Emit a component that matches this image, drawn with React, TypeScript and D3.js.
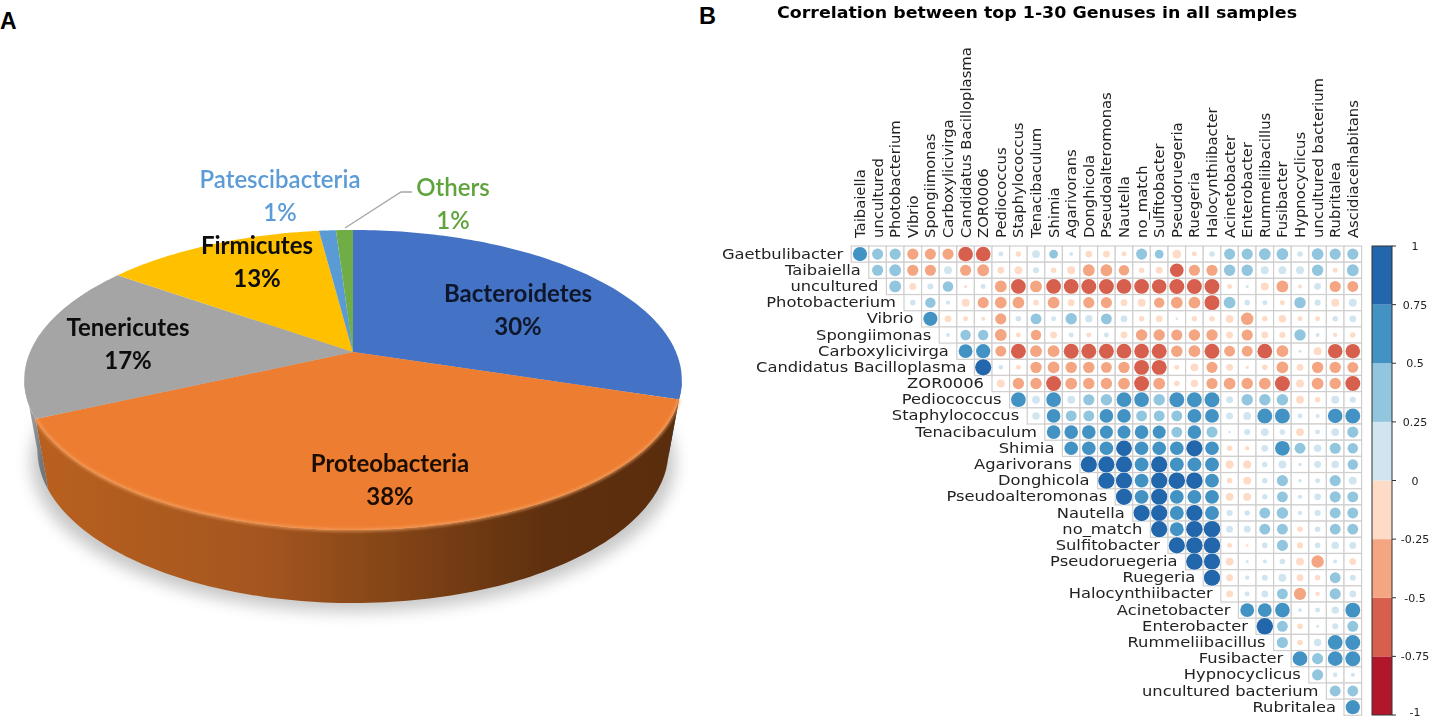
import * as d3 from 'd3'

// panel A
const phylumLabels = ['Bacteroidetes', 'Proteobacteria', 'Tenericutes', 'Firmicutes', 'Patescibacteria', 'Others']
const phylumShares = [30, 38, 17, 13, 1, 1]
const phylumColors = ['#4472c4', '#ed7d31', '#a5a5a5', '#ffc000', '#5b9bd5', '#70ad47']
const phylumSideColors = ['#2b4a85', 'url(#sideOrange)', 'url(#sideGrey)', '#a5a5a5', '#5b9bd5', '#70ad47']
const phylumLabelPos = [
  [518, 294],
  [390, 464],
  [128, 328],
  [257, 246],
  [280, 180],
  [453, 188],
]
const phylumTextColors = ['#10192c', '#1c0f04', '#0a0a0a', '#0a0a0a', '#5b9bd5', '#5ea33a']

// panel B
const colLabels = [
  'Taibaiella', 'uncultured', 'Photobacterium', 'Vibrio', 'Spongiimonas', 'Carboxylicivirga',
  'Candidatus Bacilloplasma', 'ZOR0006', 'Pediococcus', 'Staphylococcus', 'Tenacibaculum', 'Shimia',
  'Agarivorans', 'Donghicola', 'Pseudoalteromonas', 'Nautella', 'no_match', 'Sulfitobacter',
  'Pseudoruegeria', 'Ruegeria', 'Halocynthiibacter', 'Acinetobacter', 'Enterobacter', 'Rummeliibacillus',
  'Fusibacter', 'Hypnocyclicus', 'uncultured bacterium', 'Rubritalea', 'Ascidiaceihabitans',
]
const rowLabels = ['Gaetbulibacter', ...colLabels.slice(0, 28)]

// upper triangle, row i starts at column i
const corrValues = [
  [.65, .4, .4, -.4, -.4, -.4, -.7, -.7, .08, -.1, .2, .25, .05, -.15, -.15, -.08, .4, .25, -.25, -.08, .1, .4, .4, .45, .45, .1, .45, .4, .4],
  [.4, .45, -.4, -.4, .2, -.4, -.45, -.15, -.2, .12, -.1, -.2, -.45, -.45, -.35, -.1, -.15, -.6, -.4, -.4, .42, .42, .2, .2, .2, .42, -.08, .45],
  [.45, -.15, .12, .35, -.03, .08, -.45, -.7, -.45, -.7, -.7, -.72, -.72, -.7, -.7, -.68, -.72, -.72, -.72, -.08, .03, -.2, -.45, -.05, .15, -.4, -.38],
  [.1, .35, .06, -.2, -.4, -.45, -.45, -.1, -.45, -.15, -.4, -.4, -.15, -.2, -.35, -.45, -.45, -.72, .45, .1, .08, -.08, .42, .12, -.2, .2],
  [.65, -.15, -.08, -.05, -.4, .1, .38, .08, .42, .18, .38, .15, -.1, -.15, .02, -.1, -.1, -.2, -.5, -.1, -.18, -.08, -.08, .1, .15],
  [.05, .35, .35, -.45, -.08, -.35, -.15, .08, -.08, .08, -.15, -.42, -.42, -.4, -.42, -.42, -.15, -.4, -.15, -.12, .42, .05, -.06, -.1],
  [.62, .65, -.38, -.72, -.45, -.45, -.72, -.72, -.72, -.7, -.7, -.72, -.42, -.45, -.72, -.38, -.38, -.7, -.45, .03, -.2, -.68, -.68],
  [.85, .07, -.08, -.42, -.45, -.42, -.42, -.38, -.42, -.72, -.72, -.08, -.2, -.4, -.15, -.03, -.1, -.45, -.15, -.42, -.42, -.38],
  [-.2, -.42, -.42, -.72, -.45, -.42, -.42, -.45, -.72, -.45, -.1, -.18, -.4, -.45, -.42, -.45, -.72, -.2, -.45, -.42, -.72],
  [.7, .2, .7, .2, .4, .42, .7, .7, .42, .72, .72, .72, .15, .42, .42, .42, -.2, -.1, .2, .12],
  [.18, .6, .38, .38, .6, .6, .38, .38, .38, .62, .62, .15, .2, .72, .72, .08, .05, .68, .72],
  [.6, .6, .6, .55, .55, .6, .55, .38, .6, .4, .02, .12, .2, .1, -.2, .08, .2, .4],
  [.6, .6, .6, .8, .6, .6, .6, .85, .6, -.1, -.06, .15, .7, .38, .18, .4, .35],
  [.85, .85, .85, .62, .85, .62, .62, .62, -.22, -.22, .1, .2, .04, .15, .18, .35],
  [.85, .85, .62, .85, .88, .88, .62, -.1, -.2, .1, .4, .04, .08, .4, .2],
  [.85, .62, .85, .62, .62, .62, -.2, -.2, .1, .38, .06, .15, .4, .38],
  [.85, .85, .62, .85, .62, .12, .1, .38, .42, .06, .12, .38, .38],
  [.85, .62, .88, .88, .15, .15, .38, .38, -.1, .1, .38, .38],
  [.85, .88, .88, -.08, -.02, .1, .4, -.12, .1, .18, .15],
  [.88, .85, -.2, .03, .05, .1, -.2, -.5, .05, -.15],
  [.85, -.15, .06, .12, .2, -.15, -.1, .38, .12],
  [-.15, .08, .15, .38, -.48, -.06, .4, .15],
  [.62, .62, .7, .05, .08, .18, .72],
  [.88, .38, -.1, .03, .12, .38],
  [.4, -.1, .18, .7, .72],
  [.7, .4, .7, .72],
  [.4, .07, .06],
  [.38, .38],
  [.65],
]
const legendColors = ['#b2182b', '#d6604d', '#f4a582', '#fddbc7', '#d1e5f0', '#92c5de', '#4393c3', '#2166ac']
const legendTicks = [1, 0.75, 0.5, 0.25, 0, -0.25, -0.5, -0.75, -1]

// pie perspective: circle centre lands on the apex, rim is an ellipse
const apexX = 353
const apexY = 352
const persp = -0.1867
const radiusX = 323
const radiusY = 144.8
const project = (a: number): [number, number] => {
  const u = Math.sin(a)
  const v = -Math.cos(a)
  const w = 1 + persp * v
  return [apexX + (radiusX * u) / w, apexY + (radiusY * v) / w]
}
const lowerRim = ([x, y]: [number, number]): [number, number] => [apexX + (x - apexX) * 0.96, 450 + (y - 380) * 1.02]

const arcSamples = (a0: number, a1: number) => {
  const n = Math.max(2, Math.ceil((a1 - a0) / 0.02))
  return d3.range(n + 1).map((i) => a0 + ((a1 - a0) * i) / n)
}

const line = d3.line<[number, number]>()
const pieSlices = d3.pie<number>().sort(null)(phylumShares)
const sideStart = Math.acos(persp)
const sideEnd = 2 * Math.PI - sideStart

const slicePath = (a0: number, a1: number) => line([[apexX, apexY], ...arcSamples(a0, a1).map(project)]) + 'Z'
const sidePath = (a0: number, a1: number) => {
  const top = arcSamples(a0, a1).map(project)
  return line([...top, ...top.slice().reverse().map(lowerRim)]) + 'Z'
}

// heat map scales
const xBand = d3.scaleBand<string>().domain(colLabels).range([851.2, 1361.6])
const yBand = d3.scaleBand<string>().domain(rowLabels).range([246, 715.3])
const radius = d3.scaleSqrt().domain([0, 1]).range([0, 8.8])
const cellColor = d3.scaleQuantize<string>().domain([-1, 1]).range(legendColors)
const legendY = d3.scaleLinear().domain([-1, 1]).range([715, 246])

const App = () => {
  const cw = xBand.bandwidth()
  const ch = yBand.bandwidth()
  return (
    <svg width={1431} height={720} style={{ position: 'absolute', left: 0, top: 0, background: '#fff' }}>
      <defs>
        <linearGradient id="sideOrange" gradientUnits="userSpaceOnUse" x1={40} x2={670} y1={0} y2={0}>
          <stop offset="0" stopColor="#b8601f" />
          <stop offset="0.35" stopColor="#a5561f" />
          <stop offset="0.6" stopColor="#7d4115" />
          <stop offset="0.8" stopColor="#5f300f" />
          <stop offset="1" stopColor="#5a2d0d" />
        </linearGradient>
        <linearGradient id="sideGrey" gradientUnits="userSpaceOnUse" x1={25} x2={42} y1={0} y2={0}>
          <stop offset="0" stopColor="#b5b5b5" />
          <stop offset="1" stopColor="#6f767c" />
        </linearGradient>
        <filter id="soft" x="-10%" y="-10%" width="120%" height="120%">
          <feGaussianBlur stdDeviation="8" />
        </filter>
        <filter id="bevel" x="-10%" y="-10%" width="120%" height="120%">
          <feGaussianBlur stdDeviation="1.6" />
        </filter>
        <filter id="jpeg" x="-2%" y="-2%" width="104%" height="104%">
          <feGaussianBlur stdDeviation="0.55" />
        </filter>
      </defs>

      <text x={0} y={29} fontFamily="Liberation Sans" fontWeight="bold" fontSize={23}>A</text>
      <text x={699} y={24} fontFamily="Liberation Sans" fontWeight="bold" fontSize={23.5}>B</text>

      <g>
        <ellipse cx={apexX} cy={462} rx={322} ry={150} fill="#000" opacity={0.22} filter="url(#soft)" />
        {pieSlices.map((s, i) => {
          const a0 = Math.max(s.startAngle, sideStart)
          const a1 = Math.min(s.endAngle, sideEnd)
          return a1 > a0 ? <path key={i} d={sidePath(a0, a1)} fill={phylumSideColors[i]} /> : null
        })}
        {pieSlices.map((s, i) => (
          <path key={i} d={slicePath(s.startAngle, s.endAngle)} fill={phylumColors[i]} />
        ))}
        <path
          d={line(arcSamples(pieSlices[1].startAngle, pieSlices[1].endAngle).map(project)) ?? ''}
          fill="none"
          stroke="#f7a464"
          strokeWidth={3}
          opacity={0.75}
          filter="url(#bevel)"
        />
        <path
          d={line([[345, 228], [401, 192], [412, 192]]) ?? ''}
          fill="none"
          stroke="#a6a6a6"
          strokeWidth={1.3}
        />
      </g>

      <g filter="url(#jpeg)" fontFamily="Lato" fontWeight="bold" fontSize={24} textAnchor="middle">
        {phylumLabels.map((name, i) => (
          <g key={name} fill={phylumTextColors[i]} fontWeight={i > 3 ? 600 : 'bold'}>
            <text x={phylumLabelPos[i][0]} y={phylumLabelPos[i][1] + 8}>{name}</text>
            <text x={phylumLabelPos[i][0]} y={phylumLabelPos[i][1] + 41}>{phylumShares[i]}%</text>
          </g>
        ))}
      </g>

      <g filter="url(#jpeg)">
        <text
          x={777}
          y={17.5}
          textLength={520}
          lengthAdjust="spacingAndGlyphs"
          fontFamily="DejaVu Sans"
          fontWeight="bold"
          fontSize={15}
        >
          Correlation between top 1-30 Genuses in all samples
        </text>

        {corrValues.map((row, i) =>
          row.map((_, k) => {
            const col = colLabels[i + k]
            return (
              <rect
                key={col}
                x={xBand(col)}
                y={yBand(rowLabels[i])}
                width={cw}
                height={ch}
                fill="#fff"
                stroke="#cfcfcf"
                strokeWidth={1.2}
              />
            )
          }),
        )}
        {corrValues.map((row, i) =>
          row.map((value, k) => {
            const col = colLabels[i + k]
            return (
              <circle
                key={col}
                cx={(xBand(col) ?? 0) + cw / 2}
                cy={(yBand(rowLabels[i]) ?? 0) + ch / 2}
                r={radius(Math.abs(value))}
                fill={cellColor(value)}
                stroke="#fff"
                strokeOpacity={0.7}
                strokeWidth={1}
                paintOrder="stroke"
              />
            )
          }),
        )}

        <g fontFamily="DejaVu Sans" fill="#222">
          {rowLabels.map((name, i) => (
            <text
              key={name}
              transform={`translate(${(xBand(colLabels[i]) ?? 0) - 8},${(yBand(name) ?? 0) + ch / 2 + 4.5}) scale(1.2,1)`}
              textAnchor="end"
              fontSize={13.6}
            >
              {name}
            </text>
          ))}
          {colLabels.map((name) => (
            <text
              key={name}
              transform={`translate(${(xBand(name) ?? 0) + cw / 2 + 5},238) rotate(-90)`}
              fontSize={14.8}
            >
              {name}
            </text>
          ))}
        </g>

        {legendColors.map((color, i) => (
          <rect
            key={color}
            x={1372}
            y={legendY(-1 + (i + 1) * 0.25)}
            width={20}
            height={legendY(-1 + i * 0.25) - legendY(-1 + (i + 1) * 0.25)}
            fill={color}
          />
        ))}
        <rect x={1372} y={246} width={20} height={469} fill="none" stroke="#333" strokeWidth={1} />
        {legendTicks.map((t) => (
          <g key={t}>
            <line x1={1392} x2={1396} y1={legendY(t)} y2={legendY(t)} stroke="#333" />
            <text
              x={1415}
              y={legendY(t) + (t === -1 ? 1 : 4)}
              textAnchor="middle"
              fontFamily="DejaVu Sans"
              fontSize={11}
              fill="#222"
            >
              {t}
            </text>
          </g>
        ))}
      </g>
    </svg>
  )
}

export default App
